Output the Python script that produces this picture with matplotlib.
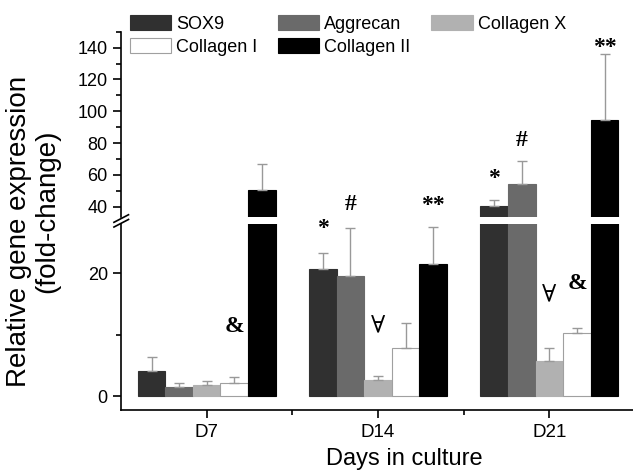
import numpy as np
import matplotlib
matplotlib.use("Agg")
import matplotlib.pyplot as plt
from matplotlib.patches import Patch

plt.rcParams['font.family'] = ['Liberation Sans', 'DejaVu Sans']

days = ['D7', 'D14', 'D21']
genes = ['SOX9', 'Aggrecan', 'Collagen X', 'Collagen I', 'Collagen II']
colors = ['#303030', '#6a6a6a', '#b1b1b1', '#ffffff', '#000000']

# mean fold-change per gene, one entry per day (D7, D14, D21)
sox9 = [4.05, 20.7, 40.4]
aggrecan = [1.6, 19.6, 54.2]
col_x = [1.9, 2.6, 5.7]
col_i = [2.1, 7.8, 10.3]
col_ii = [50.3, 21.4, 94.6]

sox9_err = [2.35, 2.6, 3.6]
aggrecan_err = [0.5, 7.7, 14.7]
col_x_err = [0.55, 0.75, 2.2]
col_i_err = [1.0, 4.05, 0.75]
col_ii_err = [16.3, 6.0, 41.2]

means = [sox9, aggrecan, col_x, col_i, col_ii]
errs = [sox9_err, aggrecan_err, col_x_err, col_i_err, col_ii_err]

# significance marks: (day index, gene index, symbol, pixel offset above error bar)
marks = [(0, 3, '&', 51), (1, 0, '*', 24), (1, 1, '#', 23), (1, 2, '\u2200', 48),
         (1, 4, '**', 22), (2, 0, '*', 22), (2, 1, '#', 20), (2, 2, '\u2200', 51),
         (2, 3, '&', 45), (2, 4, '**', 7)]

fig = plt.figure(figsize=(6.33, 4.73), dpi=100)
ax_hi = fig.add_axes([0.1912, 0.5419, 0.812, 0.3911])
ax_lo = fig.add_axes([0.1912, 0.1332, 0.812, 0.3926])

x = np.arange(len(days))
w = 0.161
for ax in (ax_hi, ax_lo):
    for i, g in enumerate(genes):
        pos = x + (i - 2) * w
        ec = '#a0a0a0' if colors[i] == '#ffffff' else colors[i]
        ax.bar(pos, means[i], w, color=colors[i], edgecolor=ec, linewidth=0.8)
        ax.errorbar(pos, means[i], yerr=[np.zeros(3), errs[i]], fmt='none',
                    ecolor='#999999', elinewidth=1.0, capsize=3.5, capthick=1.0)
    ax.set_xlim(-0.5, 2.5)
    ax.spines['top'].set_visible(False)
    ax.spines['right'].set_visible(False)
    ax.spines['left'].set_linewidth(1.2)
    ax.tick_params(axis='y', direction='out', length=6, width=1.2, labelsize=13)
    ax.tick_params(axis='y', which='minor', direction='out', length=3.5, width=1.2)

ax_hi.set_ylim(33.7, 150)
ax_hi.set_yticks([40, 60, 80, 100, 120, 140])
ax_hi.set_yticks(np.arange(50, 151, 20), minor=True)
ax_hi.spines['bottom'].set_visible(False)
ax_hi.tick_params(axis='x', which='both', bottom=False, labelbottom=False)

ax_lo.set_ylim(-2.2, 27.9)
ax_lo.set_yticks([0, 20])
ax_lo.set_yticks([10], minor=True)
ax_lo.spines['bottom'].set_linewidth(1.2)
ax_lo.set_xticks(x)
ax_lo.set_xticklabels(days)
ax_lo.set_xticks([0.5, 1.5], minor=True)
ax_lo.tick_params(axis='x', direction='out', length=6, width=1.2, labelsize=13.5, pad=4)
ax_lo.tick_params(axis='x', which='minor', direction='out', length=3.5, width=1.2)

# break marks on the left spine
for yy in (0.538, 0.528):
    fig.add_artist(plt.Line2D([0.180, 0.203], [yy - 0.008, yy + 0.008], color='black', lw=1.2))

for d, g, sym, off in marks:
    top = means[g][d] + errs[g][d]
    ax = ax_hi if top > 30 else ax_lo
    bold = 'normal' if sym == '\u2200' else 'bold'
    ax.annotate(sym, (x[d] + (g - 2) * w, top), xytext=(0, off), textcoords='offset pixels',
                ha='center', va='center', fontsize=17, fontweight=bold,
                family=['Liberation Serif', 'DejaVu Serif'], annotation_clip=False)

handles = [Patch(facecolor=c, edgecolor=('#a0a0a0' if c == '#ffffff' else c), lw=0.8) for c in colors]
order = [0, 3, 1, 4, 2]
fig.legend([handles[k] for k in order], [genes[k] for k in order], ncol=3,
           loc='upper left', bbox_to_anchor=(130 / 633, 1 - 15 / 473), frameon=False, fontsize=13,
           handlelength=2.28, handleheight=0.9, handletextpad=0.28, columnspacing=1.15,
           labelspacing=0.3, borderaxespad=0, borderpad=0)

fig.text(0.030, 1 - 231 / 473, 'Relative gene expression', rotation=90, ha='center', va='center', fontsize=20)
fig.text(0.074, 1 - 211 / 473, '(fold-change)', rotation=90, ha='center', va='center', fontsize=20)
fig.text(404 / 633, 1 - 459 / 473, 'Days in culture', ha='center', va='center', fontsize=17)

fig.savefig('out.png', dpi=100)
